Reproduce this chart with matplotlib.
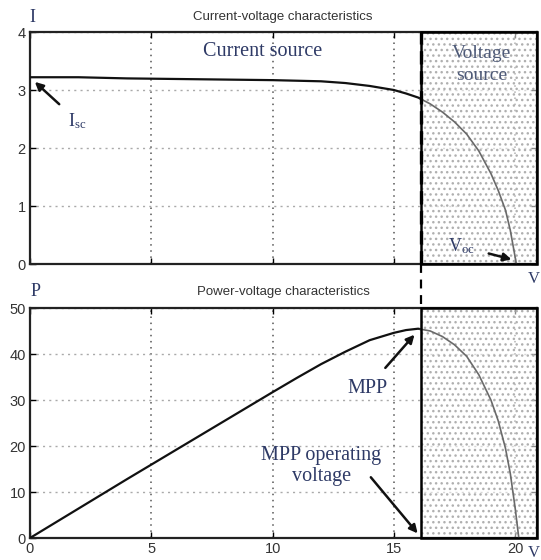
import matplotlib
matplotlib.use("Agg")
import matplotlib.pyplot as plt
from matplotlib.patches import Rectangle
from matplotlib.lines import Line2D
import numpy as np

plt.rcParams["mathtext.fontset"] = "custom"
plt.rcParams["mathtext.rm"] = "Liberation Serif"
plt.rcParams["mathtext.it"] = "Liberation Serif:italic"

# ---- data ----
v_iv = [0, 2, 4, 6, 8, 10, 11, 12, 13, 14, 15, 15.5, 16, 16.5, 17, 17.5, 18, 18.5, 19, 19.3, 19.6, 19.8, 20.05]
i_iv = [3.22, 3.22, 3.20, 3.19, 3.18, 3.17, 3.16, 3.15, 3.12, 3.07, 3.00, 2.94, 2.87, 2.76, 2.62, 2.45, 2.24, 1.95, 1.56, 1.27, 0.93, 0.58, 0.0]

v_pv = [0, 2, 4, 6, 8, 10, 11, 12, 13, 14, 15, 15.5, 16, 16.5, 17, 17.5, 18, 18.5, 19, 19.3, 19.6, 19.8, 20.0, 20.15]
p_pv = [0, 6.4, 12.8, 19.1, 25.4, 31.7, 34.8, 37.8, 40.5, 43.0, 44.6, 45.2, 45.5, 45.0, 43.8, 42.0, 39.5, 35.5, 30.0, 25.5, 19.5, 14.0, 6.5, 0.0]

v_mpp = 16.1
x_max = 20.9
x_ticks = [0, 5, 10, 15, 20]
i_ticks = [0, 1, 2, 3, 4]
p_ticks = [0, 10, 20, 30, 40, 50]

W, H = 541, 560
fig = plt.figure(figsize=(W / 100, H / 100), dpi=100)

def frac(l, t, r, b):
    return [l / W, 1 - b / H, (r - l) / W, (b - t) / H]

ax1 = fig.add_axes(frac(30, 32, 537, 264))
ax2 = fig.add_axes(frac(30, 308, 537, 538))

sans = "Liberation Sans"
serif = "Liberation Serif"
txt_col = "#2e3a66"

def style(ax, ymax, yticks):
    ax.set_xlim(0, x_max)
    ax.set_ylim(0, ymax)
    ax.set_xticks(x_ticks)
    ax.set_yticks(yticks)
    ax.tick_params(direction="in", length=4, width=1, top=True, right=True,
                   labelsize=10.5, labelcolor="#333333", pad=3)
    for lab in ax.get_xticklabels() + ax.get_yticklabels():
        lab.set_fontfamily(sans)
    for s in ax.spines.values():
        s.set_linewidth(1.6)
        s.set_color("#222222")
    ax.xaxis.grid(True, linestyle=(0, (1, 3)), color="#555555", linewidth=1.1)
    ax.yaxis.grid(True, linestyle=(0, (1.5, 3)), color="#aaaaaa", linewidth=1.0)
    ax.set_axisbelow(True)
    # shaded "voltage source" region
    ax.add_patch(Rectangle((v_mpp, 0), x_max - v_mpp, ymax, facecolor=(1, 1, 1, 0.55),
                           edgecolor="#b0b0b0", hatch="...", linewidth=0, zorder=1.5))

style(ax1, 4, i_ticks)
style(ax2, 50, p_ticks)
ax1.set_xticklabels([])

# border of shaded area
ax1.add_patch(Rectangle((v_mpp, 0), x_max - v_mpp, 4, fill=False, edgecolor="black",
                        linewidth=1.8, zorder=4, clip_on=False))
ax2.add_patch(Rectangle((v_mpp, 0), x_max - v_mpp, 50, fill=False, edgecolor="black",
                        linewidth=1.8, zorder=4, clip_on=False))

# curves: black in left part, gray in shaded part
v1 = np.array(v_iv); i1 = np.array(i_iv)
v2 = np.array(v_pv); p2 = np.array(p_pv)
m1 = v1 <= v_mpp
m2 = v2 <= v_mpp
ax1.plot(np.append(v1[m1], v_mpp), np.append(i1[m1], np.interp(v_mpp, v1, i1)), color="#111111", lw=1.6, zorder=3)
ax1.plot(np.insert(v1[~m1], 0, v_mpp), np.insert(i1[~m1], 0, np.interp(v_mpp, v1, i1)), color="#6a6a6a", lw=1.2, zorder=3)
ax2.plot(np.append(v2[m2], v_mpp), np.append(p2[m2], np.interp(v_mpp, v2, p2)), color="#111111", lw=1.6, zorder=3)
ax2.plot(np.insert(v2[~m2], 0, v_mpp), np.insert(p2[~m2], 0, np.interp(v_mpp, v2, p2)), color="#6a6a6a", lw=1.2, zorder=3)

# dashed vertical line through the gap
x_fig = (30 + v_mpp / x_max * 507) / W
fig.add_artist(Line2D([x_fig, x_fig], [1 - 264 / H, 1 - 308 / H], color="black",
                      linestyle=(0, (4, 3)), linewidth=1.6))
ax1.plot([v_mpp, v_mpp], [0, 4], color="black", linestyle=(0, (4, 2)), lw=2.4, zorder=5)

# titles
fig.text(283 / W, 1 - 17 / H, "Current-voltage characteristics", ha="center", va="center",
         fontsize=9.5, family=sans, color="#333333")
fig.text(283 / W, 1 - 292 / H, "Power-voltage characteristics", ha="center", va="center",
         fontsize=9.5, family=sans, color="#333333")

# axis letters
fig.text(32 / W, 1 - 17 / H, "I", ha="center", va="center", fontsize=13, family=serif, color=txt_col)
fig.text(36 / W, 1 - 292 / H, "P", ha="center", va="center", fontsize=13, family=serif, color=txt_col)
fig.text(540 / W, 1 - 279 / H, "V", ha="right", va="center", fontsize=12, family=serif, color=txt_col)
fig.text(540 / W, 1 - 553 / H, "V", ha="right", va="center", fontsize=12, family=serif, color=txt_col)

# annotations, top
ax1.text(9.6, 3.66, "Current source", ha="center", va="center", fontsize=14.5,
         family=serif, color=txt_col, zorder=6)
ax1.text(18.6, 3.44, "Voltage\nsource", ha="center", va="center", fontsize=14,
         family=serif, color="#4e5a78", linespacing=1.45, zorder=6)
ax1.annotate("I$_{\\rm sc}$", xy=(0.2, 3.14), xytext=(1.95, 2.47), ha="center", va="center",
             fontsize=13, family=serif, color=txt_col, zorder=6,
             arrowprops=dict(arrowstyle="-|>", color="#111111", lw=1.8, mutation_scale=12,
                             shrinkA=6, shrinkB=0))
ax1.annotate("V$_{\\rm oc}$", xy=(19.85, 0.08), xytext=(17.8, 0.3), ha="center", va="center",
             fontsize=13, family=serif, color=txt_col, zorder=6,
             arrowprops=dict(arrowstyle="-|>", color="#111111", lw=1.8, mutation_scale=12,
                             shrinkA=8, shrinkB=0))

# annotations, bottom
ax2.annotate("MPP", xy=(15.85, 44.2), xytext=(13.9, 32.5), ha="center", va="center",
             fontsize=14.5, family=serif, color=txt_col, zorder=6,
             arrowprops=dict(arrowstyle="-|>", color="#111111", lw=1.8, mutation_scale=12,
                             shrinkA=8, shrinkB=0))
ax2.text(12.0, 15.6, "MPP operating\nvoltage", ha="center", va="center", fontsize=14.5,
         family=serif, color=txt_col, linespacing=1.15, zorder=6)
ax2.annotate("", xy=(15.98, 1.0), xytext=(14.05, 13.2),
             arrowprops=dict(arrowstyle="-|>", color="#111111", lw=1.8, mutation_scale=12,
                             shrinkA=0, shrinkB=0), zorder=6)

fig.savefig("out.png", dpi=100)
